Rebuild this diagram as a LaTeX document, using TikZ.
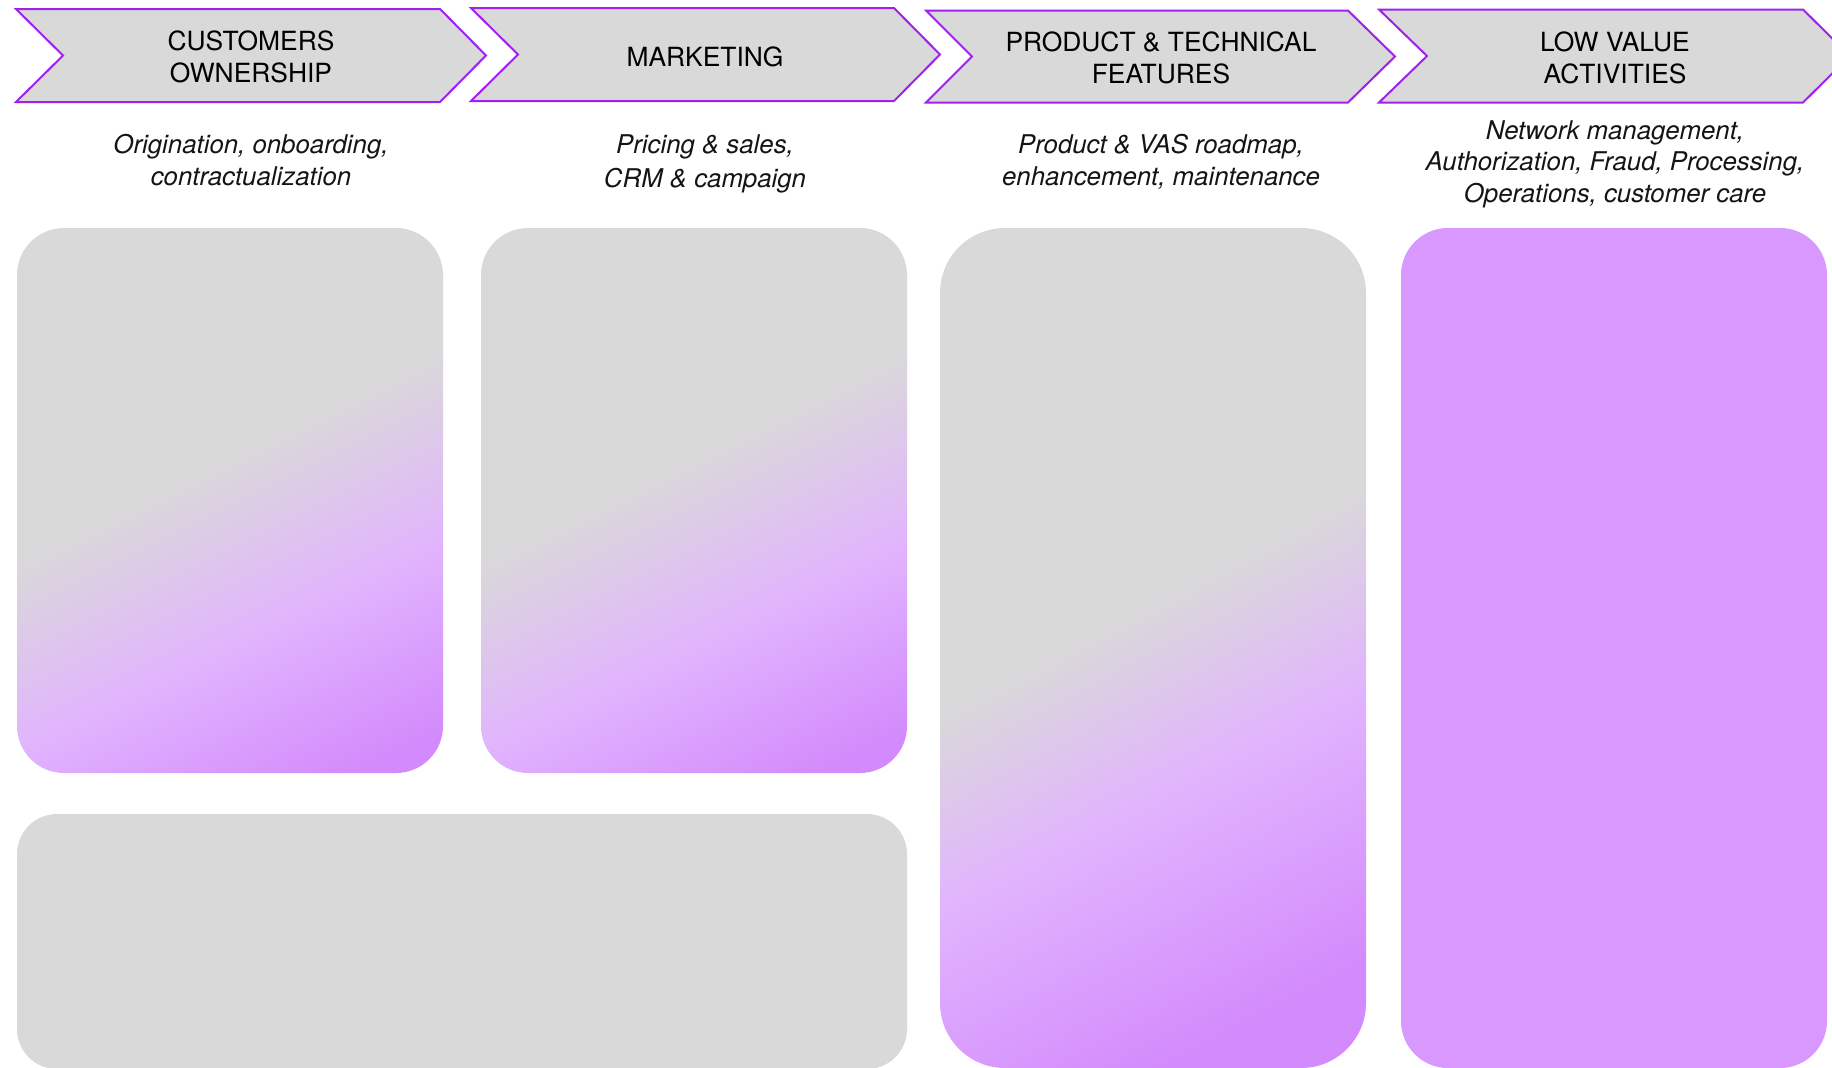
\documentclass[tikz,border=0pt]{standalone}
\usepackage{fontspec}
\setmainfont{TeX Gyre Heros}
\usetikzlibrary{shadings}
\definecolor{boxgray}{RGB}{217,217,217}
\definecolor{chevgray}{RGB}{217,217,217}
\definecolor{chevline}{RGB}{160,32,240}
\definecolor{plight}{RGB}{225,180,253}
\definecolor{pdark}{RGB}{211,138,252}
\definecolor{pflat}{RGB}{217,152,253}
\definecolor{txt}{RGB}{20,20,20}
\pgfdeclareverticalshading{gradA}{100bp}{color(0bp)=(pdark); color(20bp)=(pdark); color(37bp)=(plight); color(54.3bp)=(boxgray); color(100bp)=(boxgray)}
\pgfdeclareverticalshading{gradB}{100bp}{color(0bp)=(pdark); color(22.6bp)=(pdark); color(40.5bp)=(plight); color(53.2bp)=(boxgray); color(100bp)=(boxgray)}
\begin{document}
\begin{tikzpicture}[x=0.5pt,y=-0.5pt,
  chev/.style={fill=chevgray, draw=chevline, line width=1pt, line join=miter},
  head/.style={font=\fontsize{13.2pt}{16pt}\selectfont, align=center, text=black, anchor=base, inner sep=0pt},
  desc/.style={font=\fontsize{12.9pt}{15.75pt}\selectfont\itshape, align=center, text=txt, anchor=base, inner sep=0pt},
  card/.style={rounded corners=23.5pt},
  bigcard/.style={rounded corners=32.5pt},
  widecard/.style={rounded corners=20pt}
]
\useasboundingbox (0,0) rectangle (1832,1067);
% chevrons
\draw[chev] (16,9) -- (440,9) -- (486,55.5) -- (440,102) -- (16,102) -- (63,55.5) -- cycle;
\draw[chev] (471,8) -- (894,8) -- (940,54.5) -- (894,101) -- (471,101) -- (518,54.5) -- cycle;
\draw[chev] (926,10.5) -- (1348,10.5) -- (1395,56.5) -- (1348,102.5) -- (926,102.5) -- (972,56.5) -- cycle;
\draw[chev] (1379,9.5) -- (1803,9.5) -- (1850,56) -- (1803,102.5) -- (1379,102.5) -- (1427,56) -- cycle;
% headings (anchored at the baseline of the last line)
\node[head] (h1) at (251,82) {CUSTOMERS\\OWNERSHIP};
\node[head] (h2) at (705,66) {MARKETING};
\node[head] (h3) at (1161,83) {PRODUCT \& TECHNICAL\\FEATURES};
\node[head] (h4) at (1615,83) {LOW VALUE\\ACTIVITIES};
% descriptions
\node[desc] (d1) at (251,185) {Origination, onboarding,\\contractualization};
\node[desc] (d2) at (705,187) {Pricing \& sales,\\[1pt]CRM \& campaign};
\node[desc] (d3) at (1161,185) {Product \& VAS roadmap,\\enhancement, maintenance};
\node[desc] (d4) at (1615,202) {Network management,\\Authorization, Fraud, Processing,\\Operations, customer care};
% cards
\shade[card, shading=gradA, shading angle=26.5] (17,228) rectangle (443,773);
\shade[card, shading=gradA, shading angle=26.5] (481,228) rectangle (907,773);
\shade[bigcard, shading=gradB, shading angle=28] (940,228) rectangle (1366,1068);
\fill[card, pflat] (1401,228) rectangle (1827,1068);
\fill[widecard, boxgray] (17,814) rectangle (907,1069);
\end{tikzpicture}
\end{document}
